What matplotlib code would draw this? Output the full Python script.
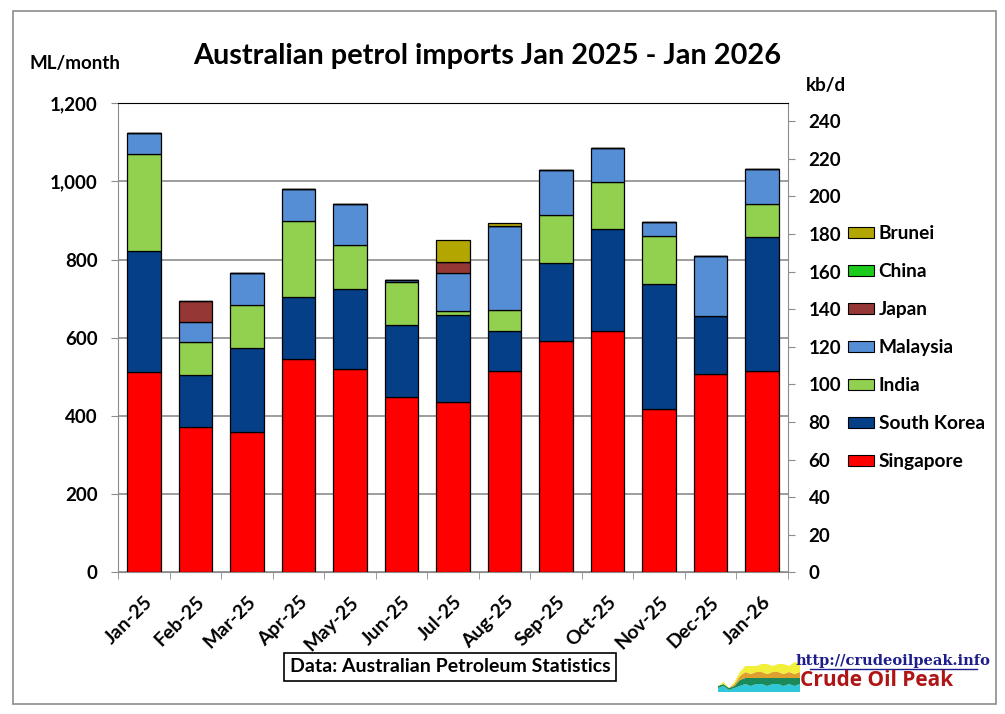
import numpy as np
import matplotlib.pyplot as plt
from matplotlib.patches import Rectangle, Patch
from matplotlib.lines import Line2D

months = ["Jan-25", "Feb-25", "Mar-25", "Apr-25", "May-25", "Jun-25", "Jul-25",
          "Aug-25", "Sep-25", "Oct-25", "Nov-25", "Dec-25", "Jan-26"]

# ML/month by source country
singapore = [513, 373, 358, 546, 519, 448, 435, 515, 591, 617, 419, 507, 515]
south_korea = [309, 132, 215, 158, 205, 185, 223, 102, 200, 261, 318, 149, 344]
india = [249, 83, 112, 194, 114, 111, 11, 53, 122, 120, 124, 0, 83]
malaysia = [54, 52, 82, 82, 104, 4, 96, 216, 117, 88, 35, 153, 90]
japan = [0, 53, 0, 0, 0, 0, 28, 0, 0, 0, 0, 0, 0]
china = [0, 0, 0, 0, 0, 0, 0, 0, 0, 0, 0, 0, 0]
brunei = [0, 0, 0, 0, 0, 0, 57, 9, 0, 0, 0, 0, 0]

series = [("Singapore", singapore, "#ff0000"),
          ("South Korea", south_korea, "#043f88"),
          ("India", india, "#92d050"),
          ("Malaysia", malaysia, "#558ed5"),
          ("Japan", japan, "#953735"),
          ("China", china, "#1ccc1c"),
          ("Brunei", brunei, "#b3a600")]

# logo decoration (little stacked area picture)
logo_x = [0, 1, 2, 3, 4, 5, 6, 7, 8, 9, 10, 11, 12, 13, 14, 15]
logo_a = [2, 3, 1, 2, 3, 4, 3, 4, 4, 3, 4, 4, 3, 4, 3, 4]
logo_b = [1, 1, 1, 1, 3, 3, 4, 3, 3, 4, 3, 3, 4, 3, 4, 3]
logo_c = [0, 0, 0, 1, 2, 3, 2, 3, 3, 2, 3, 3, 2, 3, 2, 3]
logo_d = [0, 1, 0, 1, 2, 3, 4, 3, 4, 5, 3, 4, 5, 3, 6, 4]

plt.rcParams["font.family"] = ["Lato", "DejaVu Sans"]
plt.rcParams["font.weight"] = "bold"

W, H = 1005, 714
fig = plt.figure(figsize=(W / 100, H / 100), dpi=100)

def fx(px):
    return px / W

def fy(py):
    return 1 - py / H

ax = fig.add_axes([fx(118.3), fy(572.3), fx(787.7) - fx(118.3), fy(103.3) - fy(572.3)])

x = np.arange(len(months))
bottom = np.zeros(len(months))
for name, vals, col in series:
    ax.bar(x, vals, 0.65, bottom=bottom, color=col, edgecolor="black",
           linewidth=0.9, zorder=3)
    bottom += np.array(vals)

ax.set_xlim(-0.5, len(months) - 0.5)
ax.set_ylim(0, 1200)
ax.set_yticks(range(0, 1201, 200))
ax.set_yticklabels([f"{v:,}" for v in range(0, 1201, 200)])
ax.yaxis.grid(True, color="#8c8c8c", linewidth=1.2, zorder=0)
ax.set_axisbelow(True)

ax.set_xticks(x)
ax.set_xticklabels(months, rotation=45, ha="right", va="top", rotation_mode="anchor")
ax.set_xticks(np.arange(-0.5, len(months), 1), minor=True)
ax.tick_params(axis="x", which="major", length=0, pad=15, labelsize=14)
ax.tick_params(axis="x", which="minor", length=5, color="#8c8c8c")
ax.tick_params(axis="y", length=5, color="#8c8c8c", pad=10, labelsize=13.5)

for s in ["left", "bottom", "right"]:
    ax.spines[s].set_color("#8c8c8c")
ax.spines["top"].set_color("black")

ax2 = ax.twinx()
ax2.set_ylim(0, 249.6)
ax2.set_yticks(range(0, 241, 20))
ax2.tick_params(axis="y", length=5, color="#8c8c8c", pad=10, labelsize=13.5)
for s in ax2.spines.values():
    s.set_visible(False)

fig.text(fx(487), fy(56), "Australian petrol imports Jan 2025 - Jan 2026",
         ha="center", va="center", fontsize=20.8)
fig.text(fx(75), fy(64), "ML/month", ha="center", va="center", fontsize=13.5)
fig.text(fx(826), fy(86), "kb/d", ha="center", va="center", fontsize=13.5)

handles = [Patch(facecolor=c, edgecolor="black", linewidth=0.8, label=n)
           for n, v, c in series[::-1]]
fig.legend(handles=handles, loc="upper left", bbox_to_anchor=(fx(848), fy(225)),
           frameon=False, fontsize=13.8, handlelength=1.35, handleheight=0.5,
           handletextpad=0.25, labelspacing=1.1, borderaxespad=0, borderpad=0)

fig.text(fx(450), fy(667), "Data: Australian Petroleum Statistics", ha="center",
         va="center", fontsize=14,
         bbox=dict(boxstyle="square,pad=0.3", facecolor="white", edgecolor="black",
                   linewidth=1.2))

# logo
fig.text(fx(893), fy(661), "http://crudeoilpeak.info", ha="center", va="center",
         fontsize=10.5, color="#1c1c8c", family="DejaVu Serif", weight="bold")
fig.add_artist(Line2D([fx(810), fx(977)], [fy(669), fy(669)], color="#1c1c8c",
                      linewidth=1))
fig.text(fx(877), fy(681), "Crude Oil Peak", ha="center", va="center",
         fontsize=15, color="#b01515", family="Open Sans", weight="bold")
lax = fig.add_axes([fx(718), fy(692), fx(800) - fx(718), fy(660) - fy(692)])
lax.stackplot(logo_x, logo_a, logo_b, logo_c, logo_d,
              colors=["#2fc8d8", "#1a8a5a", "#e0a030", "#f2f03a"], linewidth=0)
lax.set_xlim(0, 15)
lax.set_ylim(0, 16)
lax.axis("off")

fig.add_artist(Rectangle((fx(13), fy(704)), fx(996) - fx(13), fy(11) - fy(704),
                         transform=fig.transFigure, fill=False,
                         edgecolor="#8c8c8c", linewidth=1.2))

plt.savefig("out.png", dpi=100)
